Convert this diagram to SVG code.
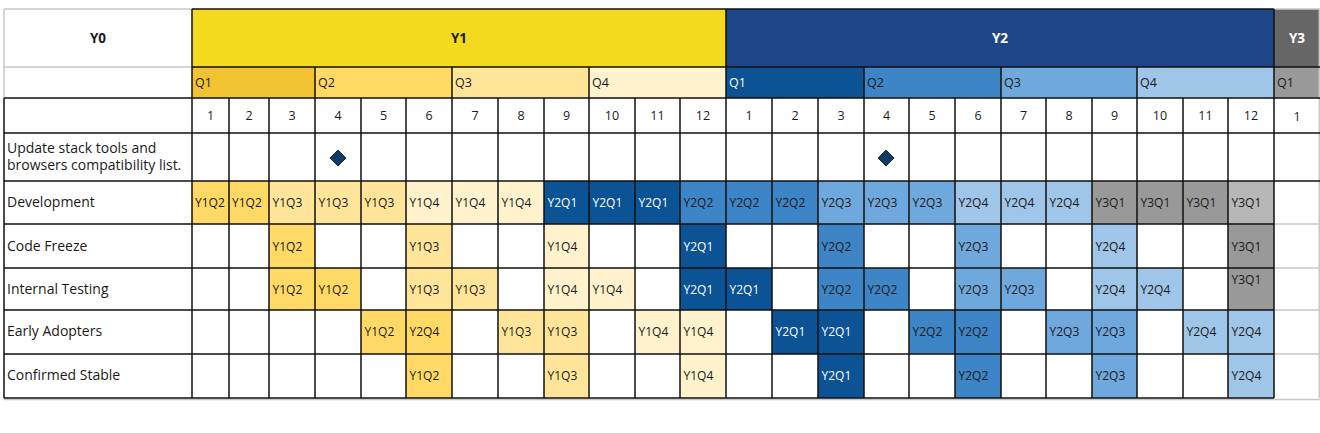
<svg xmlns="http://www.w3.org/2000/svg" width="1320" height="433" viewBox="0 0 1320 433">
<style>
text{font-family:"Open Sans","Noto Sans","DejaVu Sans",sans-serif;fill:#1a1a1a}
.lbl{font-size:14px}
.c{font-size:12px}
.w{fill:#ffffff}
.num{font-size:12.5px;text-anchor:middle}
.hd{font-size:13.5px;font-weight:bold;text-anchor:middle}
.q{font-size:12.5px}
.a{fill:#FFD966}.b{fill:#FFE599}.cc{fill:#FFF2CC}.d{fill:#0B5394}.e{fill:#3D85C6}.f{fill:#6FA8DC}.g{fill:#9FC5E8}.h{fill:#999999}.i{fill:#B7B7B7}
.k{stroke:#111;stroke-width:1.5;fill:none}
.gr{stroke:#c8c8c8;stroke-width:1.5;fill:none}
</style>
<rect x="0" y="0" width="1320" height="433" fill="#ffffff"/>
<g id="header-years">
<rect x="192" y="9" width="534" height="58" fill="#F3DA1E"/>
<rect x="726" y="9" width="548" height="58" fill="#1F4589"/>
<rect x="1274" y="9" width="46" height="58" fill="#666666"/>
<text class="hd" x="98" y="43">Y0</text>
<text class="hd" x="459" y="43">Y1</text>
<text class="hd w" x="1000" y="43">Y2</text>
<text class="hd w" x="1297" y="43">Y3</text>
</g>
<g id="header-quarters">
<rect x="192" y="67" width="123" height="31" fill="#F1C232"/>
<rect x="315" y="67" width="137" height="31" class="a"/>
<rect x="452" y="67" width="137" height="31" class="b"/>
<rect x="589" y="67" width="137" height="31" class="cc"/>
<rect x="726" y="67" width="138" height="31" class="d"/>
<rect x="864" y="67" width="137" height="31" class="e"/>
<rect x="1001" y="67" width="136" height="31" class="f"/>
<rect x="1137" y="67" width="137" height="31" class="g"/>
<rect x="1274" y="67" width="46" height="31" class="h"/>
<text class="q" x="195" y="87">Q1</text>
<text class="q" x="318" y="87">Q2</text>
<text class="q" x="455" y="87">Q3</text>
<text class="q" x="592" y="87">Q4</text>
<text class="q w" x="729" y="87">Q1</text>
<text class="q" x="867" y="87">Q2</text>
<text class="q" x="1004" y="87">Q3</text>
<text class="q" x="1140" y="87">Q4</text>
<text class="q" x="1277" y="87">Q1</text>
</g>
<g id="header-months">
<text class="num" x="210.5" y="120">1</text>
<text class="num" x="249" y="120">2</text>
<text class="num" x="292" y="120">3</text>
<text class="num" x="338" y="120">4</text>
<text class="num" x="383.5" y="120">5</text>
<text class="num" x="429" y="120">6</text>
<text class="num" x="475" y="120">7</text>
<text class="num" x="521" y="120">8</text>
<text class="num" x="566.5" y="120">9</text>
<text class="num" x="612" y="120">10</text>
<text class="num" x="657.5" y="120">11</text>
<text class="num" x="703" y="120">12</text>
<text class="num" x="749" y="120">1</text>
<text class="num" x="795" y="120">2</text>
<text class="num" x="841" y="120">3</text>
<text class="num" x="886.5" y="120">4</text>
<text class="num" x="932" y="120">5</text>
<text class="num" x="978" y="120">6</text>
<text class="num" x="1023.5" y="120">7</text>
<text class="num" x="1069" y="120">8</text>
<text class="num" x="1114.5" y="120">9</text>
<text class="num" x="1160" y="120">10</text>
<text class="num" x="1205.5" y="120">11</text>
<text class="num" x="1251" y="120">12</text>
<text class="num" x="1297" y="121">1</text>
</g>
<g id="row-update">
<text class="lbl" x="7" y="152.5">Update stack tools and</text>
<text class="lbl" x="7" y="170">browsers compatibility list.</text>
<polygon points="338,150 346,158 338,166 330,158" fill="#0B3C6A" stroke="#111" stroke-width="0.8"/>
<polygon points="886,150 894,158 886,166 878,158" fill="#0B3C6A" stroke="#111" stroke-width="0.8"/>
</g>
<g id="row-development">
<rect x="192" y="181" width="37" height="43" class="a"/>
<rect x="229" y="181" width="40" height="43" class="a"/>
<rect x="269" y="181" width="46" height="43" class="b"/>
<rect x="315" y="181" width="46" height="43" class="b"/>
<rect x="361" y="181" width="45" height="43" class="b"/>
<rect x="406" y="181" width="46" height="43" class="cc"/>
<rect x="452" y="181" width="46" height="43" class="cc"/>
<rect x="498" y="181" width="46" height="43" class="cc"/>
<rect x="544" y="181" width="45" height="43" class="d"/>
<rect x="589" y="181" width="46" height="43" class="d"/>
<rect x="635" y="181" width="45" height="43" class="d"/>
<rect x="680" y="181" width="46" height="43" class="e"/>
<rect x="726" y="181" width="46" height="43" class="e"/>
<rect x="772" y="181" width="46" height="43" class="e"/>
<rect x="818" y="181" width="46" height="43" class="f"/>
<rect x="864" y="181" width="45" height="43" class="f"/>
<rect x="909" y="181" width="46" height="43" class="f"/>
<rect x="955" y="181" width="46" height="43" class="g"/>
<rect x="1001" y="181" width="45" height="43" class="g"/>
<rect x="1046" y="181" width="46" height="43" class="g"/>
<rect x="1092" y="181" width="45" height="43" class="h"/>
<rect x="1137" y="181" width="46" height="43" class="h"/>
<rect x="1183" y="181" width="45" height="43" class="h"/>
<rect x="1228" y="181" width="46" height="43" class="i"/>
<text class="lbl" x="7" y="206.5">Development</text>
<text class="c" x="195" y="206.5">Y1Q2</text>
<text class="c" x="232" y="206.5">Y1Q2</text>
<text class="c" x="272.5" y="206.5">Y1Q3</text>
<text class="c" x="318.5" y="206.5">Y1Q3</text>
<text class="c" x="364.5" y="206.5">Y1Q3</text>
<text class="c" x="409.5" y="206.5">Y1Q4</text>
<text class="c" x="455.5" y="206.5">Y1Q4</text>
<text class="c" x="501.5" y="206.5">Y1Q4</text>
<text class="c w" x="547.5" y="206.5">Y2Q1</text>
<text class="c w" x="592.5" y="206.5">Y2Q1</text>
<text class="c w" x="638.5" y="206.5">Y2Q1</text>
<text class="c" x="683.5" y="206.5">Y2Q2</text>
<text class="c" x="729.5" y="206.5">Y2Q2</text>
<text class="c" x="775.5" y="206.5">Y2Q2</text>
<text class="c" x="821.5" y="206.5">Y2Q3</text>
<text class="c" x="867.5" y="206.5">Y2Q3</text>
<text class="c" x="912.5" y="206.5">Y2Q3</text>
<text class="c" x="958.5" y="206.5">Y2Q4</text>
<text class="c" x="1004.5" y="206.5">Y2Q4</text>
<text class="c" x="1049.5" y="206.5">Y2Q4</text>
<text class="c" x="1095.5" y="206.5">Y3Q1</text>
<text class="c" x="1140.5" y="206.5">Y3Q1</text>
<text class="c" x="1186.5" y="206.5">Y3Q1</text>
<text class="c" x="1231.5" y="206.5">Y3Q1</text>
</g>
<g id="row-code-freeze">
<rect x="269" y="224" width="46" height="44" class="a"/>
<rect x="406" y="224" width="46" height="44" class="b"/>
<rect x="544" y="224" width="45" height="44" class="cc"/>
<rect x="680" y="224" width="46" height="44" class="d"/>
<rect x="818" y="224" width="46" height="44" class="e"/>
<rect x="955" y="224" width="46" height="44" class="f"/>
<rect x="1092" y="224" width="45" height="44" class="g"/>
<rect x="1228" y="224" width="46" height="44" class="h"/>
<text class="lbl" x="7" y="250.5">Code Freeze</text>
<text class="c" x="272.5" y="250.5">Y1Q2</text>
<text class="c" x="409.5" y="250.5">Y1Q3</text>
<text class="c" x="547.5" y="250.5">Y1Q4</text>
<text class="c w" x="683.5" y="250.5">Y2Q1</text>
<text class="c" x="821.5" y="250.5">Y2Q2</text>
<text class="c" x="958.5" y="250.5">Y2Q3</text>
<text class="c" x="1095.5" y="250.5">Y2Q4</text>
<text class="c" x="1231.5" y="250.5">Y3Q1</text>
</g>
<g id="row-internal-testing">
<rect x="269" y="268" width="46" height="42" class="a"/>
<rect x="315" y="268" width="46" height="42" class="a"/>
<rect x="406" y="268" width="46" height="42" class="b"/>
<rect x="452" y="268" width="46" height="42" class="b"/>
<rect x="544" y="268" width="45" height="42" class="cc"/>
<rect x="589" y="268" width="46" height="42" class="cc"/>
<rect x="680" y="268" width="46" height="42" class="d"/>
<rect x="726" y="268" width="46" height="42" class="d"/>
<rect x="818" y="268" width="46" height="42" class="e"/>
<rect x="864" y="268" width="45" height="42" class="e"/>
<rect x="955" y="268" width="46" height="42" class="f"/>
<rect x="1001" y="268" width="45" height="42" class="f"/>
<rect x="1092" y="268" width="45" height="42" class="g"/>
<rect x="1137" y="268" width="46" height="42" class="g"/>
<rect x="1228" y="268" width="46" height="42" class="h"/>
<text class="lbl" x="7" y="293.5">Internal Testing</text>
<text class="c" x="272.5" y="293.5">Y1Q2</text>
<text class="c" x="318.5" y="293.5">Y1Q2</text>
<text class="c" x="409.5" y="293.5">Y1Q3</text>
<text class="c" x="455.5" y="293.5">Y1Q3</text>
<text class="c" x="547.5" y="293.5">Y1Q4</text>
<text class="c" x="592.5" y="293.5">Y1Q4</text>
<text class="c w" x="683.5" y="293.5">Y2Q1</text>
<text class="c w" x="729.5" y="293.5">Y2Q1</text>
<text class="c" x="821.5" y="293.5">Y2Q2</text>
<text class="c" x="867.5" y="293.5">Y2Q2</text>
<text class="c" x="958.5" y="293.5">Y2Q3</text>
<text class="c" x="1004.5" y="293.5">Y2Q3</text>
<text class="c" x="1095.5" y="293.5">Y2Q4</text>
<text class="c" x="1140.5" y="293.5">Y2Q4</text>
<text class="c" x="1231.5" y="283.5">Y3Q1</text>
</g>
<g id="row-early-adopters">
<rect x="361" y="310" width="45" height="44" class="a"/>
<rect x="406" y="310" width="46" height="44" class="a"/>
<rect x="498" y="310" width="46" height="44" class="b"/>
<rect x="544" y="310" width="45" height="44" class="b"/>
<rect x="635" y="310" width="45" height="44" class="cc"/>
<rect x="680" y="310" width="46" height="44" class="cc"/>
<rect x="772" y="310" width="46" height="44" class="d"/>
<rect x="818" y="310" width="46" height="44" class="d"/>
<rect x="909" y="310" width="46" height="44" class="e"/>
<rect x="955" y="310" width="46" height="44" class="e"/>
<rect x="1046" y="310" width="46" height="44" class="f"/>
<rect x="1092" y="310" width="45" height="44" class="f"/>
<rect x="1183" y="310" width="45" height="44" class="g"/>
<rect x="1228" y="310" width="46" height="44" class="g"/>
<text class="lbl" x="7" y="336">Early Adopters</text>
<text class="c" x="364.5" y="336">Y1Q2</text>
<text class="c" x="409.5" y="336">Y2Q4</text>
<text class="c" x="501.5" y="336">Y1Q3</text>
<text class="c" x="547.5" y="336">Y1Q3</text>
<text class="c" x="638.5" y="336">Y1Q4</text>
<text class="c" x="683.5" y="336">Y1Q4</text>
<text class="c w" x="775.5" y="336">Y2Q1</text>
<text class="c w" x="821.5" y="336">Y2Q1</text>
<text class="c" x="912.5" y="336">Y2Q2</text>
<text class="c" x="958.5" y="336">Y2Q2</text>
<text class="c" x="1049.5" y="336">Y2Q3</text>
<text class="c" x="1095.5" y="336">Y2Q3</text>
<text class="c" x="1186.5" y="336">Y2Q4</text>
<text class="c" x="1231.5" y="336">Y2Q4</text>
</g>
<g id="row-confirmed-stable">
<rect x="406" y="354" width="46" height="44" class="a"/>
<rect x="544" y="354" width="45" height="44" class="b"/>
<rect x="680" y="354" width="46" height="44" class="cc"/>
<rect x="818" y="354" width="46" height="44" class="d"/>
<rect x="955" y="354" width="46" height="44" class="e"/>
<rect x="1092" y="354" width="45" height="44" class="f"/>
<rect x="1228" y="354" width="46" height="44" class="g"/>
<text class="lbl" x="7" y="379.5">Confirmed Stable</text>
<text class="c" x="409.5" y="379.5">Y1Q2</text>
<text class="c" x="547.5" y="379.5">Y1Q3</text>
<text class="c" x="683.5" y="379.5">Y1Q4</text>
<text class="c w" x="821.5" y="379.5">Y2Q1</text>
<text class="c" x="958.5" y="379.5">Y2Q2</text>
<text class="c" x="1095.5" y="379.5">Y2Q3</text>
<text class="c" x="1231.5" y="379.5">Y2Q4</text>
</g>
<g id="grid-lines">
<path class="gr" d="M4,9H192M4,67H192M4,9V98M1274,9H1320M1274,224H1320M1274,268H1320M1274,310H1320M1274,354H1320M1319.3,9V398M4,399.5H1320"/>
<path class="k" d="M192,9H1274M192,67H1320M4,98H1320M4,133H1320M4,181H1320M4,224H1274M4,268H1274M4,310H1274M4,354H1274M4,398H1274"/>
<path class="k" d="M4,98V398M192,9V398M726,9V398M1274,9V398M315,67V398M452,67V398M589,67V398M864,67V398M1001,67V398M1137,67V398"/>
<path class="k" d="M229,98V398M269,98V398M361,98V398M406,98V398M498,98V398M544,98V398M635,98V398M680,98V398M772,98V398M818,98V398M909,98V398M955,98V398M1046,98V398M1092,98V398M1183,98V398M1228,98V398"/>
</g>
</svg>
